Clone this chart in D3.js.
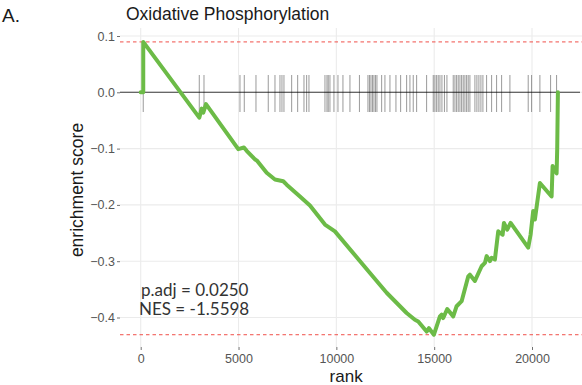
<!DOCTYPE html>
<html>
<head>
<meta charset="utf-8">
<script src="https://cdn.jsdelivr.net/npm/d3@7"></script>
<style>
  body { margin: 0; background: #fff; }
  svg { display: block; font-family: "Liberation Sans", Helvetica, Arial, sans-serif; }
</style>
</head>
<body>
<figure id="chart" style="margin:0;width:582px;height:385px"></figure>
<script>
// running enrichment score
const curveRank = [0, 130, 130, 2994, 3117, 3199, 3337, 4987, 5278, 5416, 5840, 5958, 6438, 6863, 7287, 7460,
  8140, 8651, 9418, 9928, 11717, 12570, 13592, 14016, 14185, 14614, 14732, 14987, 15294, 15381, 15463,
  15667, 15974, 16147, 16403, 16740, 16827, 17082, 17425, 17593, 17680, 17849, 17936, 18104, 18273,
  18498, 18565, 18733, 18907, 19806, 19928, 20061, 20148, 20404, 21002, 21053, 21257, 21288, 21324]
const curveES = [0, 0, 0.0895, -0.045, -0.029, -0.036, -0.021, -0.101, -0.098, -0.104, -0.119, -0.122, -0.143, -0.155, -0.158, -0.164,
  -0.185, -0.201, -0.235, -0.247, -0.321, -0.356, -0.392, -0.404, -0.407, -0.425, -0.419, -0.4306, -0.398, -0.395, -0.401,
  -0.385, -0.398, -0.380, -0.371, -0.327, -0.324, -0.335, -0.309, -0.303, -0.291, -0.300, -0.294, -0.297, -0.247,
  -0.253, -0.232, -0.244, -0.232, -0.276, -0.253, -0.211, -0.226, -0.161, -0.185, -0.131, -0.144, -0.101, 0]

// positions of gene set members in the ranked list
const hitRanks = [130, 2994, 3235, 5074, 5294, 5892, 6520, 6863, 7118, 7220, 7322, 7716, 8023, 8345, 8482, 8600,
  9418, 9520, 9586, 9673, 9877, 10082, 10337, 10695, 11180, 11615, 11692, 11768, 11845, 11921, 11998, 12075,
  12315, 12483, 12739, 13046, 13286, 13592, 13761, 13930, 14103, 14614, 14952, 15039, 15126, 15207, 15294,
  15396, 15524, 15652, 15974, 16061, 16147, 16229, 16316, 16403, 16485, 16571, 16658, 16740, 16827, 17082,
  17184, 17286, 17389, 17491, 17680, 17936, 18191, 18447, 18871, 19806, 19980, 20404, 20951, 21257]

const xTicks = [0, 5000, 10000, 15000, 20000]
const yTicks = [0.1, 0, -0.1, -0.2, -0.3, -0.4]
const esMax = 0.0895
const esMin = -0.4306
const title = "Oxidative Phosphorylation"
const panelTag = "A."
const statLines = ["p.adj = 0.0250", "NES = -1.5598"]

const width = 582, height = 385
const panel = { left: 120, right: 582, top: 28, bottom: 347 }

const x = d3.scaleLinear().domain([0, 20000]).range([140.7, 532])
const y = d3.scaleLinear().domain([-0.4, 0.1]).range([317.5, 36])

const svg = d3.select("#chart").append("svg")
  .attr("width", width)
  .attr("height", height)

// grid
svg.append("g").selectAll("line")
  .data(xTicks).join("line")
  .attr("x1", d => x(d)).attr("x2", d => x(d))
  .attr("y1", panel.top).attr("y2", panel.bottom)
  .attr("stroke", "#ebebeb").attr("stroke-width", 1.1)
svg.append("g").selectAll("line")
  .data(yTicks).join("line")
  .attr("x1", panel.left).attr("x2", panel.right)
  .attr("y1", d => y(d)).attr("y2", d => y(d))
  .attr("stroke", "#ebebeb").attr("stroke-width", 1.1)

// axes (ticks + labels only)
const xAxis = d3.axisBottom(x).tickValues(xTicks).tickFormat(d3.format("d")).tickSize(3).tickPadding(4)
const yAxis = d3.axisLeft(y).tickValues(yTicks).tickFormat(d3.format(".1f")).tickSize(3).tickPadding(2)

const gx = svg.append("g")
  .attr("transform", `translate(0, ${panel.bottom})`)
  .call(xAxis)
const gy = svg.append("g")
  .attr("transform", `translate(${panel.left}, 0)`)
  .call(yAxis)
;[gx, gy].forEach(g => {
  g.select(".domain").remove()
  g.selectAll(".tick line").attr("stroke", "#4d4d4d").attr("stroke-width", 0.8)
  g.selectAll(".tick text").attr("fill", "#555").style("font-size", "12.5px")
})
gy.selectAll(".tick text").text(d => d3.format(".1f")(d).replace("-", "\u2212"))

// red dashed lines at max / min ES
svg.append("g").selectAll("line")
  .data([esMax, esMin]).join("line")
  .attr("x1", panel.left).attr("x2", panel.right)
  .attr("y1", d => y(d)).attr("y2", d => y(d))
  .attr("stroke", "#f0504a").attr("stroke-width", 1)
  .attr("stroke-dasharray", "3.5,3")

// zero line
svg.append("line")
  .attr("x1", panel.left).attr("x2", panel.right - 2)
  .attr("y1", y(0)).attr("y2", y(0))
  .attr("stroke", "#3a3a3a").attr("stroke-width", 1.1)

// rug of hits
svg.append("g").selectAll("line")
  .data(hitRanks).join("line")
  .attr("x1", d => x(d)).attr("x2", d => x(d))
  .attr("y1", 75).attr("y2", 112)
  .attr("stroke", "#000").attr("stroke-opacity", 0.4).attr("stroke-width", 1)

// ES curve
const pts = curveRank.map((r, i) => [r, curveES[i]])
const line = d3.line().x(d => x(d[0])).y(d => y(d[1]))
svg.append("path")
  .attr("d", line(pts))
  .attr("fill", "none")
  .attr("stroke", "#6cbb47")
  .attr("stroke-width", 4)
  .attr("stroke-linejoin", "round")
  .attr("stroke-linecap", "round")

// texts
svg.append("text")
  .attr("x", 2).attr("y", 22)
  .attr("fill", "#1a1a1a").style("font-size", "19px")
  .text(panelTag)
svg.append("text")
  .attr("x", 126).attr("y", 20)
  .attr("fill", "#1a1a1a").style("font-size", "17.5px")
  .text(title)

svg.append("text")
  .attr("transform", "translate(83, 190) rotate(-90)")
  .attr("text-anchor", "middle")
  .attr("fill", "#1a1a1a").style("font-size", "17.5px")
  .text("enrichment score")
svg.append("text")
  .attr("x", x(10500)).attr("y", 382)
  .attr("text-anchor", "middle")
  .attr("fill", "#1a1a1a").style("font-size", "17px")
  .text("rank")

svg.append("g").selectAll("text")
  .data(statLines).join("text")
  .attr("x", (d, i) => i === 0 ? 141 : 139)
  .attr("y", (d, i) => 296 + i * 19)
  .attr("fill", "#333").style("font-size", "17px")
  .style("font-family", "Lato, 'Open Sans', sans-serif")
  .text(d => d)
</script>
</body>
</html>
